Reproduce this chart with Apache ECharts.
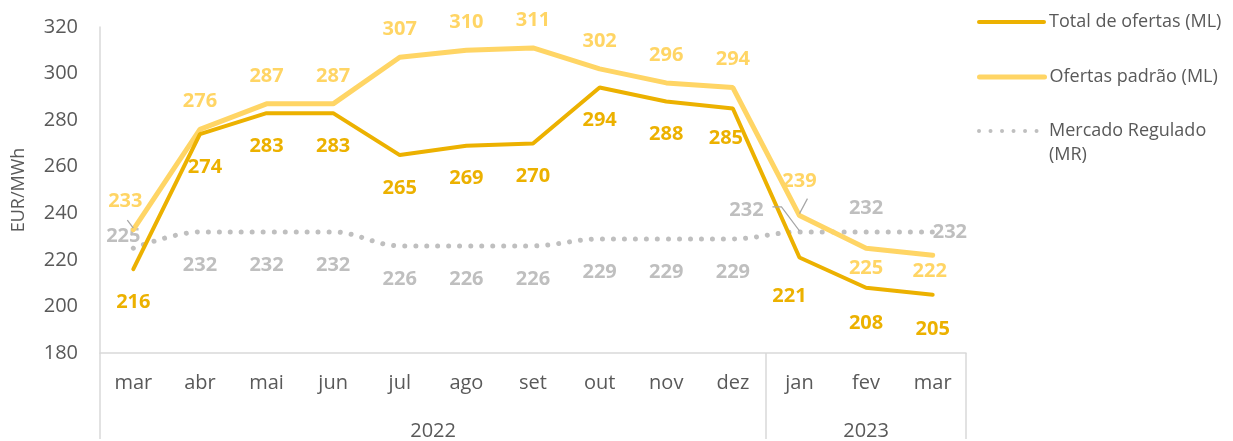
<!DOCTYPE html>
<html>
<head>
<meta charset="utf-8">
<script src="https://cdn.jsdelivr.net/npm/echarts@6/dist/echarts.min.js"></script>
<style>
    html, body { margin: 0; padding: 0; background: #fff; }
    #chart { width: 1233px; height: 441px; }
</style>
</head>
<body>
<div id="chart"></div>
<script>
// dados
const months = ['mar', 'abr', 'mai', 'jun', 'jul', 'ago', 'set', 'out', 'nov', 'dez', 'jan', 'fev', 'mar'];
const years = ['2022', '2023'];
const yearSpans = [10, 3];
const totalOfertas = [216, 274, 283, 283, 265, 269, 270, 294, 288, 285, 221, 208, 205];
const ofertasPadrao = [233, 276, 287, 287, 307, 310, 311, 302, 296, 294, 239, 225, 222];
const mercadoRegulado = [225, 232, 232, 232, 226, 226, 226, 229, 229, 229, 232, 232, 232];
const yTicks = { min: 180, max: 320, step: 20 };

const FONT = '"Open Sans", "Noto Sans", sans-serif';
const TXT = '#595959';
const AXIS = '#d9d9d9';
const C_TOTAL = '#ECB100';
const C_PADRAO = '#FFD565';
const C_MR = '#BFBFBF';

// ajustes de rótulos por ponto (só posição)
const totalLabelFix = {
    1: { offset: [5, 0] },
    9: { distance: 20, offset: [-7, 0] },
    10: { offset: [-10, 6] },
    11: { distance: 25 },
    12: { distance: 25 }
};
const padraoLabelFix = {
    0: { offset: [-8, 0] },
    10: { distance: 24 },
    11: { position: 'bottom', distance: 10 },
    12: { position: 'bottom', distance: 6, offset: [-3, 0] }
};
const mrLabelFix = {
    0: { position: 'top', distance: 2, offset: [-10, 0] },
    10: { position: 'top', distance: 12, offset: [-53, 0] },
    11: { position: 'top', distance: 14 },
    12: { position: 'right', distance: 0 }
};

// linhas de chamada (deslocamentos em px a partir do ponto)
const leaders = [
    { values: mercadoRegulado, index: 0, path: [[-6, -28], [0, -20]] },
    { values: mercadoRegulado, index: 10, path: [[-27, -25], [-18, -25], [0, -1]] },
    { values: ofertasPadrao, index: 10, path: [[8, -17], [0, -2]] }
];

function buildData(values, fixes) {
    return values.map(function (v, i) {
        let f = fixes[i];
        if (!f) return v;
        let item = { value: v, label: {} };
        if (f.position) item.label.position = f.position;
        if (f.distance != null) item.label.distance = f.distance;
        if (f.offset) item.label.offset = f.offset;
        return item;
    });
}

// fronteiras e centros dos anos no eixo secundário
let yearBounds = [0];
let yearCenters = [];
yearSpans.forEach(function (s, i) {
    let start = yearBounds[i];
    yearBounds.push(start + s);
    yearCenters.push(start + s / 2);
});

let myChart = echarts.init(document.getElementById('chart'));

function legendItem(name, top, lineStyle, extra) {
    return Object.assign({
        orient: 'vertical',
        left: 977,
        top: top,
        padding: 0,
        itemWidth: 65,
        itemHeight: 14,
        itemGap: 0,
        data: [name],
        itemStyle: { color: 'rgba(0,0,0,0)', borderWidth: 0, opacity: 0 },
        lineStyle: lineStyle,
        textStyle: { color: TXT, fontSize: 18, fontFamily: FONT, lineHeight: 24 }
    }, extra || {});
}

let labelBase = { show: true, fontFamily: FONT, fontSize: 20, fontWeight: 'bold' };

let option = {
    animation: false,
    textStyle: { fontFamily: FONT },
    legend: [
        legendItem('Total de ofertas (ML)', 10, { color: C_TOTAL, width: 4, cap: 'round' }),
        legendItem('Ofertas padrão (ML)', 65, { color: C_PADRAO, width: 5, cap: 'round' }),
        legendItem('Mercado Regulado (MR)', 95,
            { color: C_MR, width: 4, type: [0.01, 11.5], cap: 'round' },
            {
                formatter: function () { return ' \nMercado Regulado\n(MR)'; }
            })
    ],
    grid: { left: 100, right: 267, top: 27, bottom: 86, containLabel: false },
    xAxis: [
        {
            type: 'category',
            data: months,
            boundaryGap: true,
            axisLine: { show: true, lineStyle: { color: AXIS, width: 1.5 } },
            axisTick: { show: false },
            axisLabel: { color: TXT, fontSize: 20, fontFamily: FONT, margin: 20, interval: 0 }
        },
        {
            type: 'value',
            min: 0,
            max: yearBounds[yearBounds.length - 1],
            position: 'bottom',
            axisLine: { show: false },
            splitLine: { show: false },
            axisTick: {
                show: true,
                customValues: yearBounds,
                length: 86,
                lineStyle: { color: AXIS, width: 1.5 }
            },
            axisLabel: {
                customValues: yearCenters,
                color: TXT,
                fontSize: 20,
                fontFamily: FONT,
                margin: 68,
                formatter: function (v) {
                    let idx = yearCenters.indexOf(v);
                    return idx >= 0 ? years[idx] : '';
                }
            }
        }
    ],
    yAxis: {
        type: 'value',
        min: yTicks.min,
        max: yTicks.max,
        interval: yTicks.step,
        name: 'EUR/MWh',
        nameLocation: 'middle',
        nameGap: 72,
        nameTextStyle: { color: TXT, fontSize: 18, fontFamily: FONT },
        axisLine: { show: true, lineStyle: { color: AXIS, width: 1.5 } },
        axisTick: { show: false },
        splitLine: { show: false },
        axisLabel: { color: TXT, fontSize: 20, fontFamily: FONT, margin: 22 }
    },
    series: [
        {
            name: 'Mercado Regulado (MR)',
            type: 'line',
            smooth: 0.35,
            symbol: 'circle',
            symbolSize: 0,
            data: buildData(mercadoRegulado, mrLabelFix),
            itemStyle: { color: C_MR },
            lineStyle: { color: C_MR, width: 5, type: [0.01, 11], cap: 'round' },
            label: Object.assign({}, labelBase, { color: C_MR, position: 'bottom', distance: 23 }),
            z: 1
        },
        {
            name: 'Ofertas padrão (ML)',
            type: 'line',
            symbol: 'circle',
            symbolSize: 0,
            data: buildData(ofertasPadrao, padraoLabelFix),
            itemStyle: { color: C_PADRAO },
            lineStyle: { color: C_PADRAO, width: 5, cap: 'round' },
            label: Object.assign({}, labelBase, { color: C_PADRAO, position: 'top', distance: 18 }),
            z: 2
        },
        {
            name: 'Total de ofertas (ML)',
            type: 'line',
            symbol: 'circle',
            symbolSize: 0,
            data: buildData(totalOfertas, totalLabelFix),
            itemStyle: { color: C_TOTAL },
            lineStyle: { color: C_TOTAL, width: 4, cap: 'round' },
            label: Object.assign({}, labelBase, { color: C_TOTAL, position: 'bottom', distance: 23 }),
            z: 3
        },
        {
            // linhas de chamada dos rótulos deslocados
            name: 'leaders',
            type: 'custom',
            silent: true,
            z: 4,
            data: leaders.map(function (l) { return [l.index, l.values[l.index]]; }),
            renderItem: function (params, api) {
                let pt = api.coord([api.value(0), api.value(1)]);
                let path = leaders[params.dataIndex].path;
                return {
                    type: 'polyline',
                    shape: { points: path.map(function (p) { return [pt[0] + p[0], pt[1] + p[1]]; }) },
                    style: { stroke: '#a6a6a6', lineWidth: 1.2, fill: null }
                };
            }
        }
    ]
};

myChart.setOption(option);
window.addEventListener('resize', function () {
    myChart.resize();
});
</script>
</body>
</html>
